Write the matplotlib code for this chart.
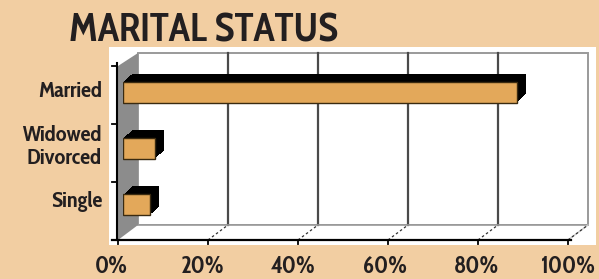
import matplotlib
matplotlib.use("Agg")
import matplotlib.pyplot as plt
from matplotlib import font_manager
from matplotlib.font_manager import FontProperties
from matplotlib.patches import Rectangle, Polygon
from matplotlib.transforms import ScaledTranslation

# ---- data ----
categories = ["Single", "Widowed\nDivorced", "Married"]
values = [6, 7, 87.5]
tick_values = [0, 20, 40, 60, 80, 100]
tick_labels = ["0%", "20%", "40%", "60%", "80%", "100%"]
title = "MARITAL STATUS"

BG = "#F2CEA2"
TXT = "#231f20"
BAR = "#E3A85A"

W, H = 599, 279
fig = plt.figure(figsize=(W / 100, H / 100), dpi=100)
fig.patch.set_facecolor(BG)

# ---- choose a bold font closest to the reference title width ----
renderer = fig.canvas.get_renderer()
cands = {}
for f in font_manager.fontManager.ttflist:
    n = f.name
    if "CJK" in n or "Mono" in n or "Serif" in n:
        continue
    if f.style != "normal":
        continue
    try:
        w = int(f.weight)
    except Exception:
        w = 700 if "bold" in str(f.weight).lower() else 400
    if w < 700:
        continue
    cands[f.fname] = FontProperties(fname=f.fname)
best, bestd = None, 1e9
for fname, fpp in cands.items():
    fp2 = fpp.copy()
    fp2.set_size(28)
    t = fig.text(0, 0, title, fontproperties=fp2)
    wpx = t.get_window_extent(renderer).width
    t.remove()
    d = abs(wpx - 262)
    if d < bestd:
        best, bestd = fname, d
if best is None:
    FP = FontProperties(family="DejaVu Sans", weight="bold", stretch="condensed")
else:
    FP = FontProperties(fname=best)

def fp(size):
    p = FP.copy()
    p.set_size(size)
    return p

# background axes in pixel coordinates for the 3D frame
bg = fig.add_axes([0, 0, 1, 1])
bg.set_xlim(0, W)
bg.set_ylim(H, 0)
bg.axis("off")

def fx(v, x0):
    return x0 + v * 4.5

# white panel
bg.add_patch(Rectangle((109, 47), 487, 198, facecolor="white", edgecolor="none", zorder=0))

# back wall
bx0, by0, by1 = 138, 53, 225
bg.add_patch(Rectangle((bx0, by0), fx(100, 0), by1 - by0, facecolor="white",
                       edgecolor="#9a9a9a", lw=1.4, zorder=1))
for v in tick_values[1:-1]:
    bg.plot([fx(v, bx0)] * 2, [by0, by1], color="#4a4a4a", lw=1.6, zorder=2)
# floor
fx0 = 118
bg.add_patch(Polygon([(fx0, 240), (bx0, by1), (fx(100, bx0), by1), (fx(100, fx0), 240)],
                     closed=True, facecolor="white", edgecolor="none", zorder=1))
bg.plot([bx0, fx(100, bx0)], [by1, by1], color="#9a9a9a", lw=1.2, zorder=2)
bg.plot([fx(100, fx0), fx(100, bx0)], [240, by1], color="#c8c8c8", lw=1.0, zorder=2)
for v in tick_values[1:]:
    bg.plot([fx(v, fx0), fx(v, bx0)], [240, by1], color="#333333", lw=0.9,
            ls=(0, (2, 2)), zorder=2)
# left wall
bg.add_patch(Polygon([(fx0, 240), (fx0, 66), (bx0, by0), (bx0, by1)], closed=True,
                     facecolor="#8c8c8c", edgecolor="none", zorder=2))
# front axes lines
bg.plot([117, 117], [63, 240], color="black", lw=1.5, zorder=3)
for yy in [66, 124, 182, 240]:
    bg.plot([112, 117], [yy, yy], color="black", lw=1.3, zorder=3)
bg.plot([112, fx(100, fx0) + 3], [240, 240], color="black", lw=1.6, zorder=3)
for v in tick_values:
    bg.plot([fx(v, fx0)] * 2, [240, 244], color="black", lw=1.3, zorder=3)

# x tick labels
for i, lab in enumerate(tick_labels):
    bg.text(111 + 91.4 * i, 267, lab, ha="center", va="center",
            fontproperties=fp(17), color=TXT)

# y labels
label_y = [202, 147, 91.5]
for lab, yy in zip(categories, label_y):
    bg.text(102, yy, lab, ha="right", va="center", fontproperties=fp(16),
            color=TXT, linespacing=1.1)

# title
bg.text(69, 41, title, ha="left", va="baseline", fontproperties=fp(28.5), color=TXT)

# ---- bars axes (bar plane) ----
ax = fig.add_axes([123 / W, (H - 233) / H, 450 / W, (233 - 64) / H])
ax.set_xlim(0, 100)
ax.set_ylim(-0.5, 2.5)
ax.axis("off")
ax.patch.set_alpha(0)
ypos = list(range(len(categories)))
steps = 9
for k in range(steps, 0, -1):
    off = ScaledTranslation(k * 1.0 / 100, k * 0.9 / 100, fig.dpi_scale_trans)
    ax.barh(ypos, values, height=0.37, color="black", edgecolor="none",
            transform=ax.transData + off, zorder=2)
ax.barh(ypos, values, height=0.37, color=BAR, edgecolor="#3a2a10", lw=1.0, zorder=3)

fig.savefig("out.png", dpi=100, facecolor=BG)
